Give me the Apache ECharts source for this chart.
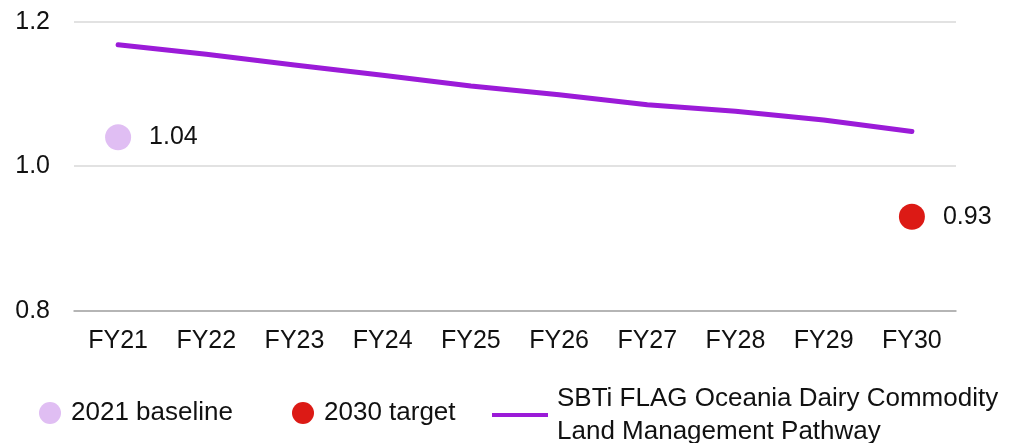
<!DOCTYPE html>
<html>
<head>
<meta charset="utf-8">
<script src="https://cdn.jsdelivr.net/npm/echarts@6/dist/echarts.min.js"></script>
<style>
  html, body { margin: 0; padding: 0; background: #fff; }
  #chart-container { width: 1011px; height: 443px; }
</style>
</head>
<body>
<div id="chart-container"></div>
<script>
// data
var years = ["FY21", "FY22", "FY23", "FY24", "FY25", "FY26", "FY27", "FY28", "FY29", "FY30"];
var pathway = [1.168, 1.155, 1.140, 1.126, 1.111, 1.099, 1.085, 1.076, 1.064, 1.048];
var baseline = [["FY21", 1.04]];
var target = [["FY30", 0.93]];
var yTicks = [0.8, 1.0, 1.2];

var pathwayName = "SBTi FLAG Oceania Dairy Commodity\nLand Management Pathway";
var font = "Liberation Sans, Arial, sans-serif";
var ink = "#111";

var chartDom = document.getElementById("chart-container");
var myChart = echarts.init(chartDom);

function valueLabel(p) {
  return p.value[1].toFixed(2);
}

var option = {
  animation: false,
  textStyle: { fontFamily: font },
  grid: { left: 74, right: 55, top: 21.7, bottom: 132.3 },
  xAxis: {
    type: "category",
    data: years,
    boundaryGap: true,
    axisTick: { show: false },
    axisLine: { lineStyle: { color: "#a6a6a6", width: 1.5 } },
    axisLabel: { color: ink, fontSize: 25, fontFamily: font, margin: 18 }
  },
  yAxis: {
    type: "value",
    min: yTicks[0],
    max: yTicks[yTicks.length - 1],
    interval: 0.2,
    axisLine: { show: false },
    axisTick: { show: false },
    splitLine: { lineStyle: { color: "#d9d9d9", width: 1.5 } },
    axisLabel: {
      color: ink, fontSize: 25, fontFamily: font, margin: 24,
      formatter: function (v) { return v.toFixed(1); }
    }
  },
  legend: [
    {
      data: ["2021 baseline"], left: 34, top: 395,
      icon: "circle", itemWidth: 32, itemHeight: 22,
      textStyle: { color: ink, fontSize: 26, fontFamily: font }
    },
    {
      data: ["2030 target"], left: 287, top: 395,
      icon: "circle", itemWidth: 32, itemHeight: 22,
      textStyle: { color: ink, fontSize: 26, fontFamily: font }
    },
    {
      data: [{ name: pathwayName, icon: "rect" }], left: 487, top: 377,
      itemWidth: 56, itemHeight: 4,
      textStyle: { color: ink, fontSize: 26, lineHeight: 33, fontFamily: font, padding: [0, 0, 0, 4] }
    }
  ],
  series: [
    {
      name: pathwayName,
      type: "line",
      data: pathway,
      symbol: "none",
      lineStyle: { color: "#9b1bd8", width: 5, cap: "round", join: "round" },
      itemStyle: { color: "#9b1bd8" },
      z: 2
    },
    {
      name: "2021 baseline",
      type: "scatter",
      data: baseline,
      symbolSize: 26,
      itemStyle: { color: "#e0bef3", opacity: 1 },
      label: {
        show: true, position: "right", distance: 18,
        color: ink, fontSize: 25, fontFamily: font,
        formatter: valueLabel
      },
      z: 3
    },
    {
      name: "2030 target",
      type: "scatter",
      data: target,
      symbolSize: 26,
      itemStyle: { color: "#dc1a15", opacity: 1 },
      label: {
        show: true, position: "right", distance: 18,
        color: ink, fontSize: 25, fontFamily: font,
        formatter: valueLabel
      },
      z: 3
    }
  ]
};

myChart.setOption(option);
</script>
</body>
</html>
